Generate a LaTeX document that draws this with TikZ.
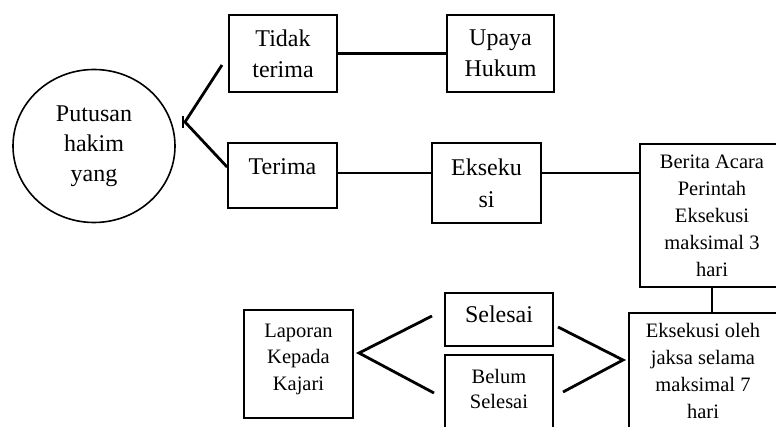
\documentclass[tikz,border=0pt]{standalone}
\usepackage{fontspec}
\setmainfont{Liberation Serif}
\usetikzlibrary{shapes.geometric}
\begin{document}
\begin{tikzpicture}[x=1pt,y=-1pt,
  box/.style={draw, line width=1.8pt, rectangle, inner sep=0pt},
  big/.style={font=\fontsize{24}{31}\selectfont, align=center, inner sep=0pt},
  small/.style={font=\fontsize{20.5}{26.5}\selectfont, align=center, inner sep=0pt},
  link/.style={line width=2.8pt}]
\useasboundingbox (0,0) rectangle (776,427);
\clip (0,0) rectangle (776,427);
% nodes
\node[draw, line width=1.6pt, ellipse, minimum width=162pt, minimum height=153pt, big, font=\fontsize{24}{30}\selectfont] (putusan) at (94,146) {Putusan\\hakim\\yang};
\node[box, big, minimum width=108pt, minimum height=77pt] (tidak) at (283,53.5) {Tidak\\terima};
\node[box, big, minimum width=107pt, minimum height=77pt] (upaya) at (500.5,53.5) {Upaya\\Hukum};
\node[box, minimum width=109pt, minimum height=65pt] (terima) at (282.5,175.5) {};
\node[big, anchor=base] (terimat) at (282.5,175) {Terima};
\node[box, big, font=\fontsize{24}{32}\selectfont, minimum width=109pt, minimum height=80pt] (ekseku) at (486.5,183) {Ekseku\\si};
\node[box, small, font=\fontsize{20.5}{27}\selectfont, minimum width=144pt, minimum height=143pt] (berita) at (712,215.5) {Berita Acara\\Perintah\\Eksekusi\\maksimal 3\\hari};
\node[box, minimum width=151pt, minimum height=127pt] (eks7) at (704.5,376.5) {};
\node[small, anchor=north, font=\fontsize{20.5}{27}\selectfont] (eks7t) at (703,323) {Eksekusi oleh\\jaksa selama\\maksimal 7\\hari};
\node[box, minimum width=108pt, minimum height=53pt] (selesai) at (499,319.5) {};
\node[big, anchor=base] (selesait) at (499,323) {Selesai};
\node[box, minimum width=108pt, minimum height=85pt] (belum) at (499,397.5) {};
\node[small, anchor=north, font=\fontsize{20.5}{25}\selectfont] (belumt) at (499,369) {Belum\\Selesai};
\node[box, minimum width=109pt, minimum height=108pt] (laporan) at (298.5,364) {};
\node[small] (laporant) at (298.5,359) {Laporan\\Kepada\\Kajari};
% coordinates
\coordinate (fork) at (185,122);
\coordinate (forkA) at (222,65);
\coordinate (forkB) at (0,167);
\coordinate (tickT) at (183,116);
\coordinate (tickB) at (183,128);
\coordinate (yA) at (0,173);
\coordinate (xV) at (712,0);
\coordinate (rv) at (623,360);
\coordinate (ra) at (558,327);
\coordinate (rb) at (563,392);
\coordinate (lv) at (359,353);
\coordinate (la) at (432,316);
\coordinate (lb) at (434,393);
% connectors
\draw[link] (forkA) -- (fork) -- (terima.west |- forkB);
\draw[link] (tickT) -- (tickB);
\draw[link] (tidak.east) -- (upaya.west);
\draw[link] (terima.east |- yA) -- (ekseku.west |- yA);
\draw[link] (ekseku.east |- yA) -- (berita.west |- yA);
\draw[link] (berita.south -| xV) -- (eks7.north -| xV);
\draw[link] (ra) -- (rv) -- (rb);
\draw[link] (la) -- (lv) -- (lb);
\end{tikzpicture}
\end{document}
